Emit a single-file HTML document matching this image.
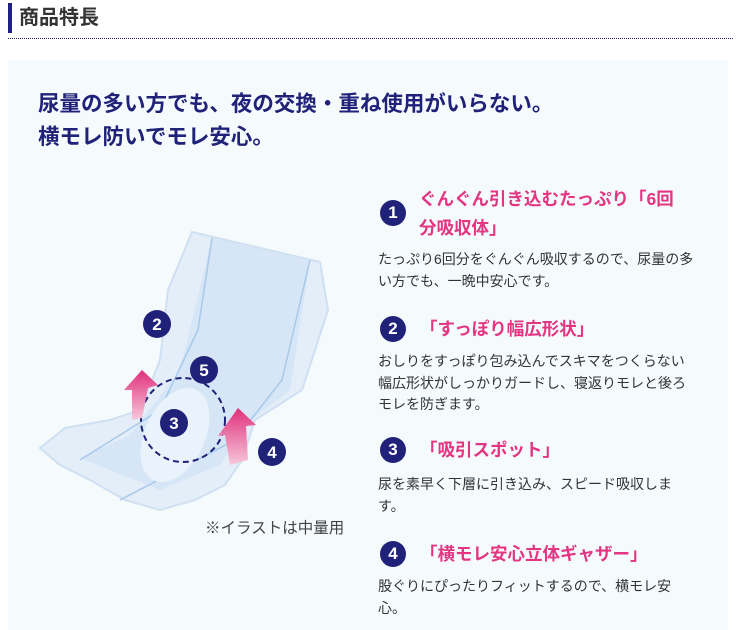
<!DOCTYPE html>
<html><head><meta charset="utf-8"><style>
body{margin:0;width:740px;height:619px;background:#fff;position:relative;overflow:hidden;font-family:"Liberation Sans","Noto Sans CJK JP",sans-serif;}
.a{position:absolute;white-space:nowrap;}
.h{left:8px;top:3px;width:4px;height:30px;background:#1f2280;}
.ht{left:19px;top:4px;font-size:20px;font-weight:bold;color:#333;line-height:28px;}
.dot{left:8px;top:38px;width:725px;border-top:1px dotted #1f2270;}
.panel{left:8px;top:60px;width:720px;height:570px;background:#f5fafd;}
.hl{left:38px;font-size:21.5px;font-weight:bold;color:#1f2278;line-height:24px;}
.c{width:26px;height:26px;border-radius:50%;background:#1f2278;color:#fff;font-weight:bold;font-size:17px;text-align:center;line-height:26px;}
.t{font-size:17.5px;font-weight:bold;color:#e33581;line-height:29px;}
.b{left:378px;font-size:14px;color:#333;line-height:21.5px;}
</style></head><body>
<div class="a h"></div><div class="a ht">商品特長</div>
<div class="a dot"></div>
<div class="a panel"></div>
<div class="a hl" style="top:92px">尿量の多い方でも、夜の交換・重ね使用がいらない。</div>
<div class="a hl" style="top:125px">横モレ防いでモレ安心。</div>

<svg class="a" style="left:20px;top:210px" width="340" height="330" viewBox="0 0 340 330">
<defs><linearGradient id="pk" x1="0" y1="1" x2="0" y2="0"><stop offset="0" stop-color="#f7c8dc"/><stop offset="1" stop-color="#e0307a"/></linearGradient></defs>
<path d="M172 22 L300 52 L308 100 L295 140 L282 180 L235 210 L222 250 L205 275 L175 290 L140 300 L105 290 L70 270 L40 255 L20 238 L45 218 L90 210 L120 200 L140 150 L148 80 Z" fill="#e3eef9" stroke="#cfe0f2" stroke-width="2"/>
<path d="M192 28 L290 50 L270 180 L225 215 L200 255 L140 280 L60 248 L110 225 L160 160 Z" fill="#d6e6f6"/>
<path d="M192 28 L178 120 L140 200 L60 250" fill="none" stroke="#a9c8ea" stroke-width="1.5"/>
<path d="M290 50 L262 170 L215 230 L100 290" fill="none" stroke="#a9c8ea" stroke-width="1.5"/>
<ellipse cx="155" cy="225" rx="30" ry="50" fill="#eaf2fb" transform="rotate(25 155 225)"/>
<circle cx="163" cy="210" r="42" fill="none" stroke="#1f2278" stroke-width="2" stroke-dasharray="6 4"/>
<path d="M112 210 L112 180 L104 180 L122 160 L138 175 L128 178 L122 208 Z" fill="url(#pk)"/>
<path d="M210 255 L205 225 L198 226 L218 198 L236 215 L226 216 L228 250 Z" fill="url(#pk)"/>
<g font-family="Liberation Sans,sans-serif" font-weight="bold" font-size="17" fill="#fff" text-anchor="middle">
<circle cx="137" cy="114" r="14" fill="#1f2278"/><text x="137" y="120">2</text>
<circle cx="184" cy="160" r="14" fill="#1f2278"/><text x="184" y="166">5</text>
<circle cx="154" cy="213" r="14" fill="#1f2278"/><text x="154" y="219">3</text>
<circle cx="252" cy="242" r="14" fill="#1f2278"/><text x="252" y="248">4</text>
</g>
</svg>
<div class="a" style="left:205px;top:516px;font-size:15.5px;color:#444;">※イラストは中量用</div>

<div class="a c" style="left:380px;top:200px">1</div>
<div class="a t" style="left:419px;top:185px">ぐんぐん引き込むたっぷり「6回</div>
<div class="a t" style="left:419px;top:214px">分吸収体」</div>
<div class="a b" style="top:249px">たっぷり6回分をぐんぐん吸収するので、尿量の多<br>い方でも、一晩中安心です。</div>

<div class="a c" style="left:380px;top:316px">2</div>
<div class="a t" style="left:420px;top:315px">「すっぽり幅広形状」</div>
<div class="a b" style="top:351px">おしりをすっぽり包み込んでスキマをつくらない<br>幅広形状がしっかりガードし、寝返りモレと後ろ<br>モレを防ぎます。</div>

<div class="a c" style="left:380px;top:437px">3</div>
<div class="a t" style="left:420px;top:436px">「吸引スポット」</div>
<div class="a b" style="top:474px">尿を素早く下層に引き込み、スピード吸収しま<br>す。</div>

<div class="a c" style="left:380px;top:541px">4</div>
<div class="a t" style="left:420px;top:540px">「横モレ安心立体ギャザー」</div>
<div class="a b" style="top:576px">股ぐりにぴったりフィットするので、横モレ安<br>心。</div>
</body></html>
